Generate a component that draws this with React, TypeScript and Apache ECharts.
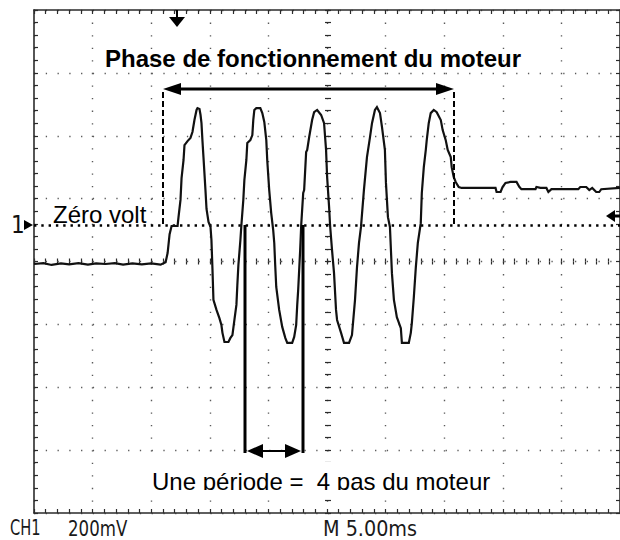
import React, { useEffect, useRef } from "react";
import * as echarts from "echarts";

// Oscilloscope settings: 5 ms / division (10 div), 200 mV / division (8 div)
const TIME_MIN_MS = 0;
const TIME_MAX_MS = 50;
const TIME_DIV_MS = 5;
const VOLT_MIN_MV = -916;
const VOLT_MAX_MV = 684;
const DIV_COUNT_Y = 8;

const channelLabel = "CH1";
const voltScaleLabel = "200mV";
const timeScaleLabel = "M 5.00ms";
const titleText = "Phase de fonctionnement du moteur";
const zeroText = "Zéro volt";
const periodText = "Une période =\u00a0 4 pas du moteur";

// [time ms, voltage mV]
const idleBefore: [number, number][] = [
  [0.0, -124], [0.8, -121], [1.5, -127], [2.3, -122], [3.0, -125], [3.8, -121],
  [4.6, -126], [5.3, -122], [6.1, -124], [6.9, -121], [7.6, -126], [8.4, -122],
  [9.2, -125], [10.0, -122], [10.8, -126], [11.23, -118],
];

const motorBurst: [number, number][] = [
  [11.40, -89], [11.57, -29], [11.74, -3], [12.25, -3], [12.33, 25], [12.50, 80], [12.59, 149],
  [12.76, 207], [12.84, 254], [13.10, 267], [13.35, 277], [13.52, 296], [13.69, 334], [13.87, 366],
  [13.95, 372], [14.12, 369], [14.21, 350], [14.29, 324], [14.37, 270], [14.46, 216], [14.63, 111],
  [14.72, 51], [14.89, 10], [15.06, -6], [15.14, -48], [15.23, -143], [15.31, -238], [15.57, -270],
  [15.82, -296], [15.99, -318], [16.08, -343], [16.25, -372], [16.59, -372], [16.76, -359],
  [16.93, -350], [17.10, -302], [17.27, -254], [17.35, -191], [17.44, -127], [17.61, -48],
  [17.69, -3], [17.86, 80], [17.95, 143], [18.12, 207], [18.20, 261], [18.46, 270], [18.63, 286],
  [18.71, 334], [18.80, 366], [18.97, 372], [19.31, 372], [19.48, 356], [19.65, 328], [19.82, 270],
  [19.90, 207], [20.07, 111], [20.24, 38], [20.41, -16], [20.50, -57], [20.58, -127], [20.67, -197],
  [20.92, -270], [21.18, -324], [21.44, -359], [21.61, -375], [22.03, -375], [22.20, -356],
  [22.37, -318], [22.46, -254], [22.54, -207], [22.71, -80], [22.80, 0], [22.97, 102], [23.05, 111],
  [23.22, 232], [23.31, 239], [23.48, 280], [23.73, 334], [23.90, 359], [24.16, 366], [24.50, 350],
  [24.75, 324], [24.92, 239], [25.01, 153], [25.18, 57], [25.26, 0], [25.43, -80], [25.60, -153],
  [25.77, -270], [25.86, -302], [26.20, -343], [26.45, -375], [26.88, -375], [27.13, -350],
  [27.39, -238], [27.56, -134], [27.73, -57], [27.90, -6], [28.15, 111], [28.41, 216], [28.66, 277],
  [28.84, 324], [29.09, 366], [29.26, 375], [29.52, 356], [29.69, 312], [29.94, 239], [30.03, 134],
  [30.20, 25], [30.37, -6], [30.54, -153], [30.71, -238], [30.96, -293], [31.30, -328], [31.39, -375],
  [31.98, -375], [32.15, -343], [32.24, -312], [32.41, -229], [32.58, -134], [32.75, -57], [33.00, 6],
  [33.09, 102], [33.26, 184], [33.43, 239], [33.51, 270], [33.68, 324], [33.85, 356], [34.11, 366],
  [34.36, 359], [34.71, 334], [34.87, 302], [35.13, 270], [35.30, 239], [35.56, 216], [35.64, 184],
  [35.81, 153], [35.98, 137], [36.24, 121], [36.49, 118],
];

const idleAfter: [number, number][] = [
  [39.38, 118], [39.47, 105], [39.81, 105], [39.98, 121], [40.23, 134], [40.66, 137], [41.17, 137],
  [41.42, 121], [41.59, 114], [42.79, 114], [42.87, 121], [43.21, 118], [43.72, 118], [43.89, 105],
  [44.15, 114], [46.44, 114], [46.61, 121], [47.12, 121], [47.38, 111], [47.63, 118], [47.97, 105],
  [48.23, 105], [48.40, 114], [50.0, 118],
];

const GRID = { left: 34, top: 10, width: 588, height: 503 };
const FRAME = "#2b2b2b";
const DOT = "#5a5a5a";
const TEXT_FONT = '"Liberation Sans", Arial, sans-serif';
const SCOPE_FONT = '"DejaVu Sans Condensed", "Liberation Sans Narrow", sans-serif';

const tickStyle = { color: FRAME, width: 1.2 };

function frameX(position: "top" | "bottom", extra: any = {}) {
  return {
    type: "value",
    gridIndex: 0,
    min: TIME_MIN_MS,
    max: TIME_MAX_MS,
    interval: TIME_DIV_MS,
    position,
    axisLine: { show: true, onZero: false, lineStyle: { color: FRAME, width: 1.6 } },
    axisTick: { show: true, inside: true, length: 4, lineStyle: tickStyle },
    minorTick: { show: true, splitNumber: 5, length: 4, lineStyle: tickStyle },
    axisLabel: { show: false },
    splitLine: { show: false },
    ...extra,
  };
}

function frameY(position: "left" | "right", extra: any = {}) {
  return {
    type: "value",
    gridIndex: 0,
    min: 0,
    max: DIV_COUNT_Y,
    interval: 1,
    position,
    axisLine: { show: true, onZero: false, lineStyle: { color: FRAME, width: 1.6 } },
    axisTick: { show: true, inside: true, length: 4, lineStyle: tickStyle },
    minorTick: { show: true, splitNumber: 5, length: 4, lineStyle: tickStyle },
    axisLabel: { show: false },
    splitLine: { show: false },
    ...extra,
  };
}

export default function App() {
  const ref = useRef<HTMLDivElement>(null);

  useEffect(() => {
    if (!ref.current) return;
    const chart = echarts.init(ref.current, null, { renderer: "svg" });
    const trace = [...idleBefore, ...motorBurst, ...idleAfter];
    const centerHalfX = GRID.height / 2;
    const centerHalfY = GRID.width / 2;

    const g = (o: any) => ({ z: 100, silent: true, ...o });
    const fill = { fill: "#000" };
    const scopeText = (text: string, x: number, sx: number) =>
      g({
        type: "text",
        x,
        y: 528,
        scaleX: sx,
        style: { text, x: 0, y: 0, font: `22px ${SCOPE_FONT}`, fill: "#1a1a1a", textVerticalAlign: "middle" },
      });

    chart.setOption({
      animation: false,
      backgroundColor: "#ffffff",
      grid: { ...GRID, containLabel: false },
      xAxis: [
        frameX("bottom", {
          splitLine: {
            show: true,
            lineStyle: { color: DOT, width: 1.4, type: [1.3, GRID.height / 40 - 1.3] },
          },
        }),
        frameX("top"),
        frameX("bottom", {
          offset: -centerHalfX,
          axisLine: { show: false, onZero: false },
          axisTick: { show: true, inside: true, length: 3, lineStyle: tickStyle },
          minorTick: { show: true, splitNumber: 5, length: 3, lineStyle: tickStyle },
        }),
        frameX("bottom", {
          offset: -centerHalfX,
          axisLine: { show: false, onZero: false },
          axisTick: { show: true, inside: false, length: 3, lineStyle: tickStyle },
          minorTick: { show: true, splitNumber: 5, length: 3, lineStyle: tickStyle },
        }),
      ],
      yAxis: [
        {
          type: "value",
          gridIndex: 0,
          min: VOLT_MIN_MV,
          max: VOLT_MAX_MV,
          show: false,
          axisLine: { onZero: false },
          splitLine: { show: false },
        },
        frameY("left", {
          splitLine: {
            show: true,
            lineStyle: { color: DOT, width: 1.4, type: [1.3, GRID.width / 50 - 1.3] },
          },
        }),
        frameY("right"),
        frameY("left", {
          offset: -centerHalfY,
          axisLine: { show: false, onZero: false },
          axisTick: { show: true, inside: true, length: 3, lineStyle: tickStyle },
          minorTick: { show: true, splitNumber: 5, length: 3, lineStyle: tickStyle },
        }),
        frameY("left", {
          offset: -centerHalfY,
          axisLine: { show: false, onZero: false },
          axisTick: { show: true, inside: false, length: 3, lineStyle: tickStyle },
          minorTick: { show: true, splitNumber: 5, length: 3, lineStyle: tickStyle },
        }),
      ],
      series: [
        {
          type: "line",
          xAxisIndex: 0,
          yAxisIndex: 0,
          data: trace,
          symbol: "none",
          showSymbol: false,
          silent: true,
          lineStyle: { color: "#111", width: 2.2, join: "miter" },
          z: 5,
          markLine: {
            silent: true,
            symbol: ["none", "none"],
            label: { show: false },
            lineStyle: { color: "#000", width: 2.6, type: [2.4, 4.9] },
            data: [{ yAxis: 0 }],
          },
        },
      ],
      graphic: [
        // Title and bracket of the motor phase
        g({ type: "text", style: { text: titleText, x: 105, y: 58, font: `bold 24px ${TEXT_FONT}`, fill: "#000", textVerticalAlign: "middle" } }),
        g({ type: "line", shape: { x1: 176, y1: 89, x2: 441, y2: 89 }, style: { stroke: "#000", lineWidth: 3 } }),
        g({ type: "polygon", shape: { points: [[163, 89], [181, 83], [181, 95]] }, style: fill }),
        g({ type: "polygon", shape: { points: [[454, 89], [436, 83], [436, 95]] }, style: fill }),
        g({ type: "line", shape: { x1: 163, y1: 92, x2: 163, y2: 225 }, style: { stroke: "#000", lineWidth: 2, lineDash: [6, 3] } }),
        g({ type: "line", shape: { x1: 454, y1: 92, x2: 454, y2: 225 }, style: { stroke: "#000", lineWidth: 2, lineDash: [6, 3] } }),
        // Zero volt label
        g({ type: "text", style: { text: zeroText, x: 53, y: 214, font: `24px ${TEXT_FONT}`, fill: "#000", textVerticalAlign: "middle" } }),
        // Period markers
        g({ type: "line", shape: { x1: 245, y1: 225, x2: 245, y2: 453 }, style: { stroke: "#000", lineWidth: 3 } }),
        g({ type: "line", shape: { x1: 303, y1: 225, x2: 303, y2: 453 }, style: { stroke: "#000", lineWidth: 3 } }),
        g({ type: "line", shape: { x1: 258, y1: 451, x2: 290, y2: 451 }, style: { stroke: "#000", lineWidth: 2 } }),
        g({ type: "polygon", shape: { points: [[247, 451], [263, 444], [263, 458]] }, style: fill }),
        g({ type: "polygon", shape: { points: [[301, 451], [285, 444], [285, 458]] }, style: fill }),
        // Period label (box with clipped descenders)
        g({ type: "rect", z: 98, shape: { x: 150, y: 462, width: 342, height: 28 }, style: { fill: "#fff" } }),
        g({ type: "text", z: 99, style: { text: periodText, x: 152, y: 481, font: `24px ${TEXT_FONT}`, fill: "#000", textVerticalAlign: "middle" } }),
        g({ type: "rect", z: 101, shape: { x: 150, y: 490, width: 342, height: 7 }, style: { fill: "#fff" } }),
        // Trigger markers
        g({ type: "line", shape: { x1: 177, y1: 10, x2: 177, y2: 19 }, style: { stroke: "#000", lineWidth: 2 } }),
        g({ type: "polygon", shape: { points: [[169, 17], [185, 17], [177, 27]] }, style: fill }),
        g({ type: "polygon", shape: { points: [[606, 216], [615, 210], [615, 222]] }, style: fill }),
        g({ type: "line", shape: { x1: 613, y1: 216, x2: 620, y2: 216 }, style: { stroke: "#000", lineWidth: 3 } }),
        // Channel ground marker
        g({ type: "text", style: { text: "1", x: 11, y: 225, font: `24px ${SCOPE_FONT}`, fill: "#111", textVerticalAlign: "middle" } }),
        g({ type: "polygon", shape: { points: [[24, 220], [33, 225], [24, 230]] }, style: fill }),
        // Scope scale readouts
        scopeText(channelLabel, 10, 0.74),
        scopeText(voltScaleLabel, 68, 0.84),
        scopeText(timeScaleLabel, 323, 0.97),
      ],
    });

    return () => chart.dispose();
  }, []);

  return (
    <div
      ref={ref}
      style={{ position: "fixed", left: 0, top: 0, width: 620, height: 540, background: "#fff" }}
    />
  );
}
